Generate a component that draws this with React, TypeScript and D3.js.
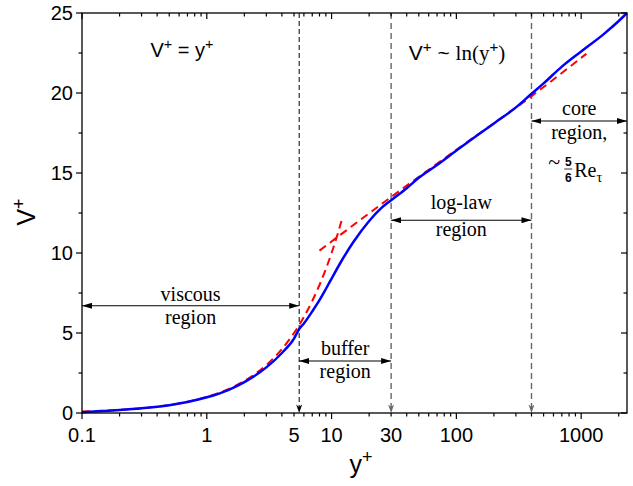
import React, { useEffect, useRef } from 'react';
import * as d3 from 'd3';

// blue solid profile
const profileY = [0.1, 0.2, 0.3, 0.5, 0.7, 1, 1.5, 2, 3, 4, 5, 5.5, 6, 7, 8, 9, 10, 12, 15, 20, 25, 30, 40, 50, 70, 100, 150, 200, 300, 400, 500, 700, 1000, 1500, 2000, 2330];
const profileV = [0.05, 0.18, 0.29, 0.49, 0.69, 0.98, 1.45, 1.93, 2.85, 3.75, 4.65, 5.25, 5.6, 6.35, 7.05, 7.75, 8.4, 9.5, 10.7, 12.0, 12.8, 13.3, 14.05, 14.7, 15.5, 16.4, 17.4, 18.1, 19.1, 19.95, 20.6, 21.65, 22.6, 23.65, 24.5, 25.0];

// red dashed: V+ = y+
const viscousY = [0.1, 0.15, 0.2, 0.3, 0.5, 0.7, 1, 1.5, 2, 3, 4, 5, 6, 7, 8, 9, 10, 11, 12];
const viscousV = [0.1, 0.15, 0.2, 0.3, 0.5, 0.7, 1, 1.5, 2, 3, 4, 5, 6, 7, 8, 9, 10, 11, 12];

// red dashed: log law
const logLawY = [8, 30, 100, 400, 1100];
const logLawV = [10.15, 13.5, 16.45, 19.8, 22.45];

const xTickLabels = [0.1, 1, 5, 10, 30, 100, 1000];
const yTickLabels = [0, 5, 10, 15, 20, 25];

const boundaries = [5.5, 30, 400];
const boundaryColors = ['#000', '#666', '#666'];

const regionNames = [['viscous', 'region'], ['buffer', 'region'], ['log-law', 'region'], ['core', 'region,']];
const regionFrom = [0.1, 5.5, 30, 400];
const regionTo = [5.5, 30, 400, 2330];
const regionArrowV = [6.7, 3.25, 12.05, 18.25];
const regionTextAbove = [-5, -6, -11, -6];
const regionTextBelow = [18, 17, 16, 18];

const W = 633;
const H = 486;
const margin = { top: 13, right: 6, bottom: 73, left: 82 };
const SANS = '"Liberation Sans", Arial, sans-serif';
const SERIF = '"Liberation Serif", "Times New Roman", serif';

type Part = [string, 'n' | 'sup' | 'sub', string?];

// text with superscript / subscript pieces
function richText(g: d3.Selection<any, unknown, null, undefined>, px: number, py: number, size: number, family: string, parts: Part[], anchor = 'middle') {
  const t = g.append('text').attr('x', px).attr('y', py).attr('font-size', size).attr('font-family', family).attr('text-anchor', anchor).attr('fill', '#000');
  let shift = 0;
  parts.forEach(([s, kind, fam]) => {
    const target = kind === 'sup' ? -0.4 * size : kind === 'sub' ? 0.25 * size : 0;
    const sp = t.append('tspan').attr('dy', target - shift).text(s);
    if (kind !== 'n') sp.attr('font-size', size * 0.72);
    if (fam) sp.attr('font-family', fam);
    shift = target;
  });
  return t;
}

const App: React.FC = () => {
  const svgRef = useRef<SVGSVGElement>(null);

  useEffect(() => {
    if (!svgRef.current) return;
    const svg = d3.select(svgRef.current);
    svg.selectAll('*').remove();

    const x = d3.scaleLog().domain([0.1, 2330]).range([margin.left, W - margin.right]);
    const y = d3.scaleLinear().domain([0, 25]).range([H - margin.bottom, margin.top]);
    const xL = margin.left, xR = W - margin.right, yB = H - margin.bottom, yT = margin.top;

    const defs = svg.append('defs');
    defs.append('marker').attr('id', 'harrow')
      .attr('viewBox', '0 0 10 6').attr('refX', 10).attr('refY', 3)
      .attr('markerWidth', 10).attr('markerHeight', 6).attr('markerUnits', 'userSpaceOnUse')
      .attr('orient', 'auto-start-reverse')
      .append('path').attr('d', 'M0,0 L10,3 L0,6 Z').attr('fill', '#000');
    ['#000', '#666'].forEach((c, i) => {
      defs.append('marker').attr('id', `varrow${i}`)
        .attr('viewBox', '0 0 10 7').attr('refX', 10).attr('refY', 3.5)
        .attr('markerWidth', 9).attr('markerHeight', 6).attr('markerUnits', 'userSpaceOnUse')
        .attr('orient', 'auto')
        .append('path').attr('d', 'M0,0 L10,3.5 L0,7 L3,3.5 Z').attr('fill', c);
    });

    const g = svg.append('g');

    // region boundaries
    boundaries.forEach((b, i) => {
      g.append('line')
        .attr('x1', x(b)).attr('x2', x(b)).attr('y1', yT).attr('y2', yB)
        .attr('stroke', boundaryColors[i]).attr('stroke-width', i === 0 ? 1 : 1.4)
        .attr('stroke-dasharray', i === 0 ? '5,3' : '6,4')
        .attr('marker-end', `url(#varrow${i === 0 ? 0 : 1})`);
    });

    // curves
    const line = d3.line<[number, number]>().x(d => x(d[0])).y(d => y(d[1])).curve(d3.curveMonotoneX);
    g.append('path').datum(viscousY.map((v, i) => [v, viscousV[i]] as [number, number]))
      .attr('fill', 'none').attr('stroke', '#ff0000').attr('stroke-width', 2).attr('stroke-dasharray', '8,5').attr('d', line);
    g.append('path').datum(logLawY.map((v, i) => [v, logLawV[i]] as [number, number]))
      .attr('fill', 'none').attr('stroke', '#ff0000').attr('stroke-width', 2).attr('stroke-dasharray', '8,5').attr('d', line);
    g.append('path').datum(profileY.map((v, i) => [v, profileV[i]] as [number, number]))
      .attr('fill', 'none').attr('stroke', '#0000ff').attr('stroke-width', 2.5).attr('d', line);

    // frame
    g.append('rect').attr('x', xL).attr('y', yT).attr('width', xR - xL).attr('height', yB - yT)
      .attr('fill', 'none').attr('stroke', '#000').attr('stroke-width', 1.3);

    // x ticks
    const xt = x.ticks();
    xt.forEach(v => {
      const major = Math.abs(Math.log10(v) - Math.round(Math.log10(v))) < 1e-6;
      const len = major ? 6 : 3.5;
      g.append('line').attr('x1', x(v)).attr('x2', x(v)).attr('y1', yB).attr('y2', yB + len).attr('stroke', '#000').attr('stroke-width', 1.2);
      g.append('line').attr('x1', x(v)).attr('x2', x(v)).attr('y1', yT).attr('y2', yT + len).attr('stroke', '#000').attr('stroke-width', 1.2);
    });
    xTickLabels.forEach(v => {
      g.append('text').attr('x', x(v)).attr('y', yB + 29).attr('text-anchor', 'middle')
        .attr('font-family', SANS).attr('font-size', 20).text(String(v));
    });

    // y ticks
    const yMajor = y.ticks(5);
    const yMinor = d3.range(2.5, 25, 5);
    [...yMajor.map(v => [v, 6]), ...yMinor.map(v => [v, 3.5])].forEach(([v, len]) => {
      g.append('line').attr('x1', xL - len).attr('x2', xL).attr('y1', y(v)).attr('y2', y(v)).attr('stroke', '#000').attr('stroke-width', 1.2);
      g.append('line').attr('x1', xR - len).attr('x2', xR).attr('y1', y(v)).attr('y2', y(v)).attr('stroke', '#000').attr('stroke-width', 1.2);
    });
    yTickLabels.forEach(v => {
      g.append('text').attr('x', xL - 9).attr('y', y(v)).attr('dy', '0.36em').attr('text-anchor', 'end')
        .attr('font-family', SANS).attr('font-size', 20).text(String(v));
    });

    // axis titles
    const yTitle = g.append('g').attr('transform', `translate(35,212) rotate(-90)`);
    richText(yTitle, 0, 0, 25, SANS, [['V', 'n'], ['+', 'sup']]);
    richText(g, 361, 473, 25, SANS, [['y', 'n'], ['+', 'sup']]);

    // equations
    richText(g, 182, 57, 20, SANS, [['V', 'n'], ['+', 'sup'], [' = y', 'n'], ['+', 'sup']]);
    richText(g, 457, 60, 21, SANS, [['V', 'n'], ['+', 'sup'], [' ~ ', 'n'], ['ln(y', 'n', SERIF], ['+', 'sup'], [')', 'n', SERIF]]);

    // region arrows + labels
    regionNames.forEach((names, i) => {
      const ay = y(regionArrowV[i]);
      const xa = x(regionFrom[i]), xb = x(regionTo[i]);
      g.append('line').attr('x1', xa).attr('x2', xb).attr('y1', ay).attr('y2', ay)
        .attr('stroke', '#000').attr('stroke-width', 1.1)
        .attr('marker-start', 'url(#harrow)').attr('marker-end', 'url(#harrow)');
      const cx = (xa + xb) / 2;
      g.append('text').attr('x', cx).attr('y', ay + regionTextAbove[i]).attr('text-anchor', 'middle')
        .attr('font-family', SERIF).attr('font-size', 20).text(names[0]);
      g.append('text').attr('x', cx).attr('y', ay + regionTextBelow[i]).attr('text-anchor', 'middle')
        .attr('font-family', SERIF).attr('font-size', 20).text(names[1]);
      if (i === 3) {
        const by = ay + 56;
        g.append('text').attr('x', cx - 31).attr('y', by - 8).attr('font-family', SERIF).attr('font-size', 22).text('~');
        g.append('text').attr('x', cx - 11).attr('y', by - 11).attr('text-anchor', 'middle')
          .attr('font-family', SANS).attr('font-weight', 'bold').attr('font-size', 12).text('5');
        g.append('line').attr('x1', cx - 15).attr('x2', cx - 7).attr('y1', by - 8).attr('y2', by - 8).attr('stroke', '#000').attr('stroke-width', 0.8);
        g.append('text').attr('x', cx - 11).attr('y', by + 5).attr('text-anchor', 'middle')
          .attr('font-family', SANS).attr('font-weight', 'bold').attr('font-size', 12).text('6');
        richText(g, cx - 5, by, 20, SERIF, [['Re', 'n'], ['τ', 'sub']], 'start');
      }
    });
  }, []);

  return (
    <svg ref={svgRef} width={W} height={H} style={{ position: 'absolute', left: 0, top: 0, background: '#fff' }} />
  );
};

export default App;
